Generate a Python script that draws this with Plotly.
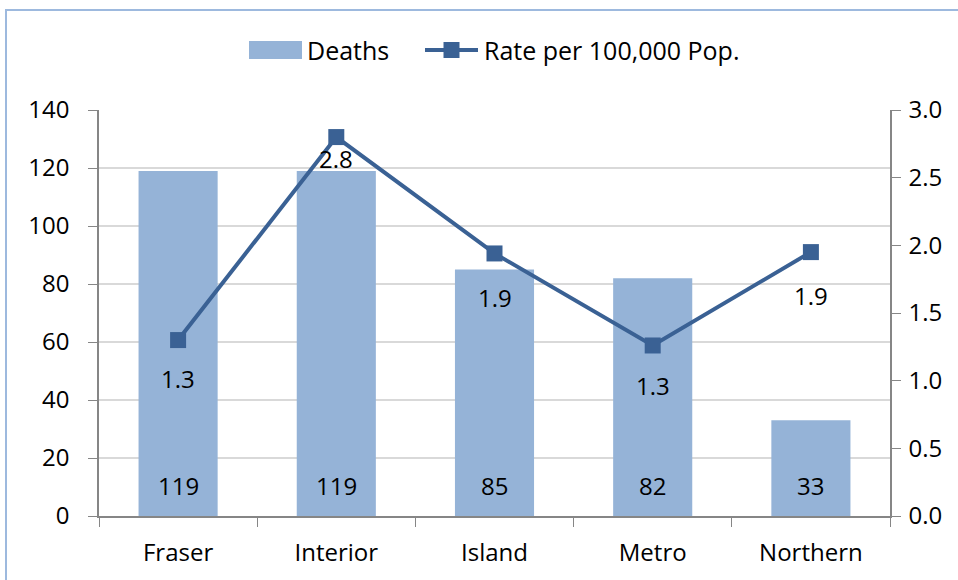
import plotly.graph_objects as go

regions = ["Fraser", "Interior", "Island", "Metro", "Northern"]
deaths = [119, 119, 85, 82, 33]
rate = [1.3, 2.8, 1.94, 1.26, 1.95]
series_names = ["Deaths", "Rate per 100,000 Pop."]

BAR_COLOR = "#95B3D7"
LINE_COLOR = "#3A6194"
FONT = "Open Sans"
FS = 24
label_shift = [-38, -21, -44, -40, -43]

fig = go.Figure()
fig.add_trace(go.Bar(
    x=regions, y=deaths, name=series_names[0],
    marker=dict(color=BAR_COLOR, line=dict(width=0)),
    width=0.5, showlegend=False,
    yaxis="y",
))
fig.add_trace(go.Scatter(
    x=regions, y=rate, name=series_names[1],
    mode="lines+markers", showlegend=False,
    line=dict(color=LINE_COLOR, width=4),
    marker=dict(symbol="square", size=16, color=LINE_COLOR),
    yaxis="y2",
))
for xv, d in zip(regions, deaths):
    fig.add_annotation(x=xv, y=0, xref="x", yref="y", text=str(d),
                       showarrow=False, yshift=31, yanchor="middle",
                       font=dict(size=FS, color="black", family=FONT))
for xv, yv, sh in zip(regions, rate, label_shift):
    fig.add_annotation(x=xv, y=yv, xref="x", yref="y2", text=f"{yv:.1f}",
                       showarrow=False, yshift=sh,
                       font=dict(size=FS, color="black", family=FONT))

# pixel -> paper helpers (plot area: x 99..890, y 110..516)
L, R, T, B = 99, 890, 110, 516
W = R - L
H = B - T
px = lambda v: (v - L) / W
py = lambda v: (B - v) / H

# chart frame
fig.add_shape(type="rect", xref="paper", yref="paper",
              x0=px(6), x1=px(965), y0=py(590), y1=py(10),
              line=dict(color="#9DB9DE", width=2), fillcolor="rgba(0,0,0,0)",
              layer="below")

# manual legend
LY = 50
fig.add_shape(type="rect", xref="paper", yref="paper",
              x0=px(249), x1=px(302), y0=py(LY + 9), y1=py(LY - 9),
              line=dict(width=0), fillcolor=BAR_COLOR)
fig.add_annotation(xref="paper", yref="paper", x=px(305), y=py(LY), text=series_names[0],
                   showarrow=False, xanchor="left", yanchor="middle",
                   font=dict(size=25, family=FONT, color="black"))
fig.add_shape(type="line", xref="paper", yref="paper",
              x0=px(425), x1=px(478), y0=py(LY), y1=py(LY),
              line=dict(color=LINE_COLOR, width=4))
fig.add_shape(type="rect", xref="paper", yref="paper",
              x0=px(443.5), x1=px(459.5), y0=py(LY + 8), y1=py(LY - 8),
              line=dict(width=0), fillcolor=LINE_COLOR)
fig.add_annotation(xref="paper", yref="paper", x=px(482), y=py(LY), text=series_names[1],
                   showarrow=False, xanchor="left", yanchor="middle",
                   font=dict(size=25, family=FONT, color="black"))

fig.update_layout(
    width=958, height=580,
    margin=dict(l=L, r=958 - R, t=T, b=580 - B),
    paper_bgcolor="white", plot_bgcolor="white",
    font=dict(family=FONT, size=FS, color="black"),
    showlegend=False,
    xaxis=dict(
        showline=True, linecolor="#868686", linewidth=1.5,
        ticks="outside", ticklen=9, tickcolor="#868686", tickson="boundaries",
        showgrid=False, tickfont=dict(size=FS), ticklabelstandoff=14,
    ),
    yaxis=dict(
        range=[0, 140], dtick=20, showline=True, linecolor="#868686", linewidth=1.5,
        ticks="outside", ticklen=9, tickcolor="#868686",
        showgrid=True, gridcolor="#D9D9D9", gridwidth=1.5, zeroline=False,
        tickfont=dict(size=FS), ticklabelstandoff=14,
    ),
    yaxis2=dict(
        range=[0, 3], dtick=0.5, tickformat=".1f", overlaying="y", side="right",
        showline=True, linecolor="#868686", linewidth=1.5,
        ticks="outside", ticklen=9, tickcolor="#868686",
        showgrid=False, zeroline=False, tickfont=dict(size=FS), ticklabelstandoff=3,
    ),
)

fig.write_html("out.html", config={"displayModeBar": False},
               post_script="document.body.style.margin='0';")
